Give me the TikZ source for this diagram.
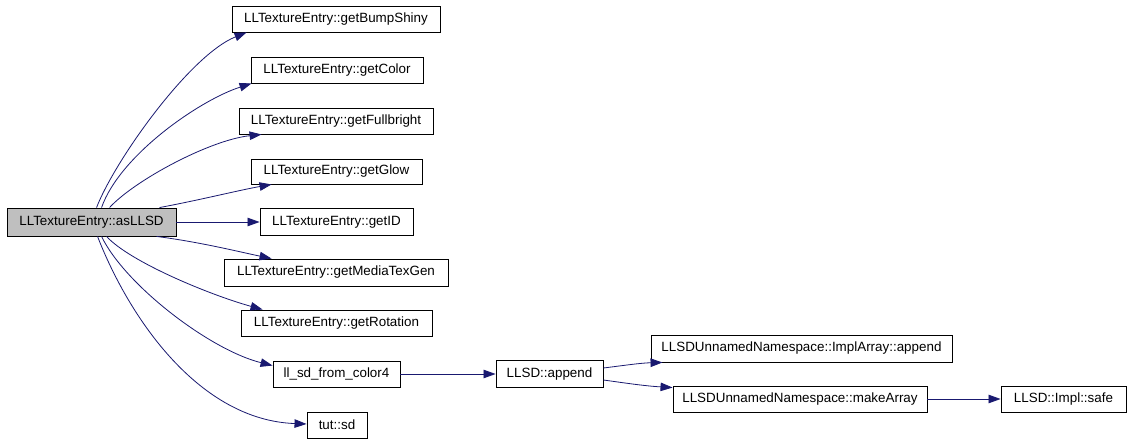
\documentclass[tikz,border=0pt]{standalone}
\usepackage{fontspec}
\setmainfont{Liberation Sans}
\usetikzlibrary{arrows.meta}
\definecolor{edgeblue}{HTML}{191970}
\definecolor{fillgray}{HTML}{BFBFBF}
\begin{document}
\begin{tikzpicture}[x=1pt,y=-1pt,
  fn/.style={draw=black, line width=0.9pt, fill=white, inner sep=0pt, font=\fontsize{13.4}{15}\selectfont},
  edge/.style={draw=edgeblue, line width=0.8pt, -{Triangle[length=12pt,width=8.5pt]}, edgeblue}]
\useasboundingbox[fill=white] (0,0) rectangle (1128,443);
\node[fn, fill=fillgray, minimum width=169pt, minimum height=28pt] (a) at (91.5,222) {LLTextureEntry::asLLSD};
\node[fn, minimum width=208pt, minimum height=26pt] (bump) at (336,19) {LLTextureEntry::getBumpShiny};
\node[fn, minimum width=172pt, minimum height=26pt] (color) at (337,70) {LLTextureEntry::getColor};
\node[fn, minimum width=194pt, minimum height=26pt] (full) at (336,121) {LLTextureEntry::getFullbright};
\node[fn, minimum width=171pt, minimum height=25pt] (glow) at (336.5,171.5) {LLTextureEntry::getGlow};
\node[fn, minimum width=153pt, minimum height=27pt] (id) at (336.5,222) {LLTextureEntry::getID};
\node[fn, minimum width=224pt, minimum height=27pt] (media) at (336,272.5) {LLTextureEntry::getMediaTexGen};
\node[fn, minimum width=191pt, minimum height=26pt] (rot) at (336.5,323) {LLTextureEntry::getRotation};
\node[fn, minimum width=127pt, minimum height=26pt] (llsd) at (336.5,374) {ll\_sd\_from\_color4};
\node[fn, minimum width=60pt, minimum height=26pt] (tut) at (337,425) {tut::sd};
\node[fn, minimum width=107pt, minimum height=27pt] (app) at (549.5,374) {LLSD::append};
\node[fn, minimum width=301pt, minimum height=27pt] (impl) at (801.5,348.5) {LLSDUnnamedNamespace::ImplArray::append};
\node[fn, minimum width=254pt, minimum height=26pt] (make) at (800,399) {LLSDUnnamedNamespace::makeArray};
\node[fn, minimum width=125pt, minimum height=26pt] (safe) at (1063.5,399) {LLSD::Impl::safe};

\draw[edge] ([xshift=90pt]a.north west) .. controls (115,160) and (190,55) .. ([xshift=15pt]bump.south west);
\draw[edge] ([xshift=95pt]a.north west) .. controls (120,155) and (200,100) .. ([xshift=1pt]color.south west);
\draw[edge] ([xshift=103pt]a.north west) .. controls (135,180) and (210,140) .. ([xshift=23pt]full.south west);
\draw[edge] ([xshift=153pt]a.north west) .. controls (200,200) and (240,190) .. ([xshift=21pt]glow.south west);
\draw[edge] (a.east) -- (id.west);
\draw[edge] ([xshift=150pt]a.south west) .. controls (200,242) and (240,252) .. ([xshift=48pt]media.north west);
\draw[edge] ([xshift=100pt]a.south west) .. controls (130,262) and (210,295) .. ([xshift=22pt]rot.north west);
\draw[edge] ([xshift=95pt]a.south west) .. controls (125,285) and (210,350) .. ([yshift=-5pt]llsd.north west);
\draw[edge] ([xshift=91pt]a.south west) .. controls (130,320) and (200,420) .. ([yshift=1pt]tut.west);
\draw[edge] (llsd.east) -- (app.west);
\draw[edge] ([yshift=6pt]app.east) .. controls (620,366) and (640,363) .. ([xshift=12pt]impl.south west);
\draw[edge] ([yshift=-6pt]app.east) .. controls (625,383) and (645,386) .. ([yshift=-2pt]make.north west);
\draw[edge] (make.east) -- (safe.west);
\end{tikzpicture}
\end{document}
